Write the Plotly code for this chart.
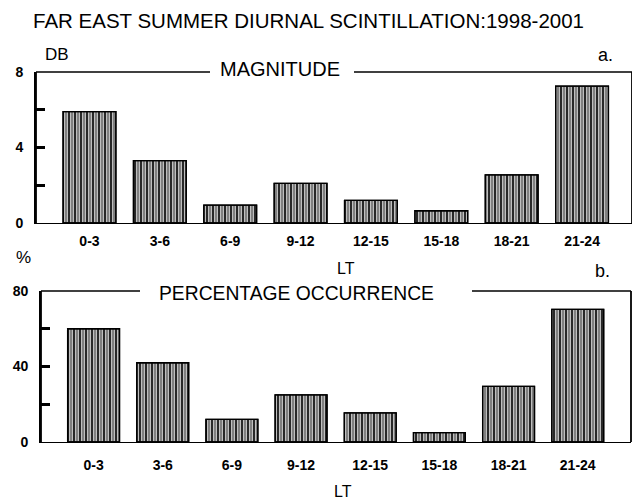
import plotly.graph_objects as go

categories = ["0-3", "3-6", "6-9", "9-12", "12-15", "15-18", "18-21", "21-24"]
magnitude_db = [5.9, 3.3, 0.95, 2.1, 1.2, 0.65, 2.55, 7.25]
occurrence_pct = [60, 42, 12, 25, 15.4, 5, 29.5, 70.3]

title_text = "FAR EAST SUMMER DIURNAL SCINTILLATION:1998-2001"
panel_a_title = "MAGNITUDE"
panel_b_title = "PERCENTAGE OCCURRENCE"

# page body has an 8px margin; figure fills the rest of the 640x500 window
OFF = 8
W, H = 640 - OFF, 500 - OFF
FONT = "Liberation Sans, Arial, sans-serif"


def px(x):
    return (x - OFF) / W


def py(y):
    return 1 - (y - OFF) / H


fig = go.Figure()


def add_bars(xa, ya, values):
    fig.add_trace(go.Bar(
        x=categories, y=values, xaxis=xa, yaxis=ya, width=0.75,
        marker=dict(color="#808080",
                    line=dict(color="black", width=1.3),
                    pattern=dict(shape="|", size=6, solidity=0.5,
                                 fgcolor="white", bgcolor="#808080",
                                 fillmode="replace")),
        showlegend=False, hoverinfo="skip"))
    fig.add_trace(go.Bar(
        x=categories, y=values, xaxis=xa, yaxis=ya, width=0.75,
        marker=dict(color="rgba(0,0,0,0)",
                    line=dict(color="black", width=1.3),
                    pattern=dict(shape="|", size=6, solidity=0.28,
                                 fgcolor="black", bgcolor="rgba(0,0,0,0)",
                                 fillmode="replace")),
        showlegend=False, hoverinfo="skip"))


add_bars("x", "y", magnitude_db)
add_bars("x2", "y2", occurrence_pct)

# panel geometry (reference pixels)
top = dict(l=36, r=632, t=72, b=223)
bot = dict(l=41, r=631, t=291, b=442)

xcommon = dict(type="category", showline=True, linecolor="black", linewidth=1.3,
               ticks="outside", ticklen=0, showgrid=False, zeroline=False,
               automargin=False,
               tickfont=dict(family=FONT, size=14, color="black", weight="bold"))
ycommon = dict(showline=True, linecolor="black", linewidth=1.8, mirror=False,
               ticks="inside", ticklen=9, tickwidth=3, tickcolor="black",
               showgrid=False, zeroline=False, ticklabelstandoff=8,
               automargin=False,
               tickfont=dict(family=FONT, size=14, color="black", weight="bold"))

fig.update_layout(
    template="none",
    width=W, height=H, margin=dict(l=0, r=0, t=0, b=0, autoexpand=False),
    paper_bgcolor="white", plot_bgcolor="white", barmode="overlay",
    xaxis=dict(domain=[px(top["l"]), px(top["r"])], anchor="y",
               range=[-0.76, 7.71], ticklabelstandoff=5, **xcommon),
    yaxis=dict(domain=[py(top["b"]), py(top["t"])], anchor="x", range=[0, 8],
               tickvals=[0, 2, 4, 6, 8], ticktext=["0", "", "4", "", "8"], **ycommon),
    xaxis2=dict(domain=[px(bot["l"]), px(bot["r"])], anchor="y2",
                range=[-0.76, 7.77], ticklabelstandoff=10, **xcommon),
    yaxis2=dict(domain=[py(bot["b"]), py(bot["t"])], anchor="x2", range=[0, 80],
                tickvals=[0, 20, 40, 60, 80], ticktext=["0", "", "40", "", "80"], **ycommon),
)

shapes = []
for g, gap in ((top, (210, 354)), (bot, (140, 472))):
    hline = dict(color="black", width=1.3)
    vline = dict(color="black", width=1.8)
    shapes.append(dict(type="line", xref="paper", yref="paper",
                       x0=px(g["l"]), x1=px(gap[0]), y0=py(g["t"]), y1=py(g["t"]), line=hline))
    shapes.append(dict(type="line", xref="paper", yref="paper",
                       x0=px(gap[1]), x1=px(g["r"]), y0=py(g["t"]), y1=py(g["t"]), line=hline))
    shapes.append(dict(type="line", xref="paper", yref="paper",
                       x0=px(g["r"]), x1=px(g["r"]), y0=py(g["t"]), y1=py(g["b"]), line=vline))
    shapes.append(dict(type="line", xref="paper", yref="paper",
                       x0=px(g["l"]), x1=px(g["l"]), y0=py(g["t"]), y1=py(g["b"]), line=vline))
fig.update_layout(shapes=shapes)


def ann(text, x, y, size, weight="normal"):
    fig.add_annotation(text=text, x=px(x), y=py(y), xref="paper", yref="paper",
                       xanchor="center", yanchor="middle", showarrow=False,
                       font=dict(family=FONT, size=size, color="black", weight=weight))


ann(title_text, 308, 20, 20.5)
ann(panel_a_title, 280, 69, 20)
ann(panel_b_title, 296, 293, 19.3)
ann("DB", 57, 54, 17)
ann("a.", 605, 55, 18)
ann("%", 23, 257, 17)
ann("b.", 602, 271, 18)
ann("LT", 346, 268, 16)
ann("LT", 343, 491, 16)

fig.write_html("out.html")
